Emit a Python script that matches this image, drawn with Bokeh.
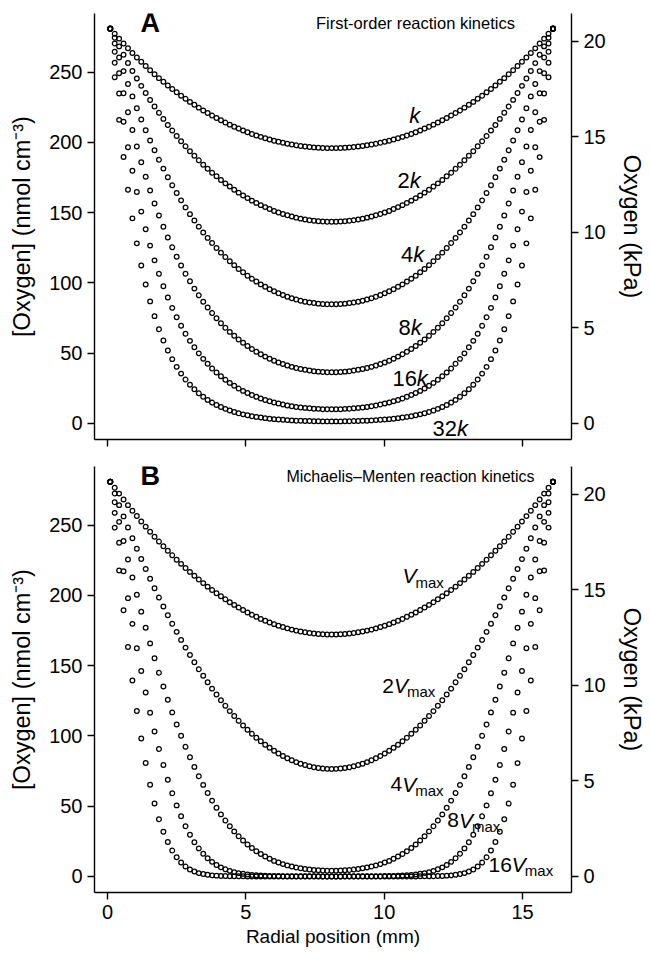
from bokeh.plotting import figure
from bokeh.models import Range1d, LinearAxis, FixedTicker, Label, CustomLabelingPolicy
from bokeh.layouts import column
from bokeh.embed import file_html
from bokeh.resources import INLINE

FONT = "Liberation Sans"

# Radial position of every sample (mm)
radial_mm = [0.10, 0.26, 0.42, 0.58, 0.74, 0.90, 1.06, 1.22, 1.38, 1.54, 1.70, 1.86, 2.02, 2.18, 2.34,
             2.50, 2.66, 2.82, 2.98, 3.14, 3.30, 3.46, 3.62, 3.78, 3.94, 4.10, 4.26, 4.42, 4.58, 4.74,
             4.90, 5.06, 5.22, 5.38, 5.54, 5.70, 5.86, 6.02, 6.18, 6.34, 6.50, 6.66, 6.82, 6.98, 7.14,
             7.30, 7.46, 7.62, 7.78, 7.94, 8.10, 8.26, 8.42, 8.58, 8.74, 8.90, 9.06, 9.22, 9.38, 9.54,
             9.70, 9.86, 10.02, 10.18, 10.34, 10.50, 10.66, 10.82, 10.98, 11.14, 11.30, 11.46, 11.62,
             11.78, 11.94, 12.10, 12.26, 12.42, 12.58, 12.74, 12.90, 13.06, 13.22, 13.38, 13.54, 13.70,
             13.86, 14.02, 14.18, 14.34, 14.50, 14.66, 14.82, 14.98, 15.14, 15.30, 15.46, 15.62, 15.78,
             15.94, 16.10]

# Panel A: first-order kinetics, [O2] in nmol cm-3
first_k = [281.1, 277.4, 273.9, 270.4, 267.0, 263.7, 260.5, 257.4, 254.4, 251.4, 248.6, 245.8, 243.2, 240.6, 238.1,
           235.7, 233.3, 231.1, 228.9, 226.8, 224.8, 222.8, 221.0, 219.2, 217.4, 215.8, 214.2, 212.7, 211.2, 209.9,
           208.5, 207.3, 206.1, 205.0, 204.0, 203.0, 202.1, 201.3, 200.5, 199.8, 199.1, 198.5, 198.0, 197.5, 197.1,
           196.8, 196.5, 196.3, 196.1, 196.0, 196.0, 196.0, 196.1, 196.3, 196.5, 196.8, 197.1, 197.5, 198.0, 198.5,
           199.1, 199.8, 200.5, 201.3, 202.1, 203.0, 204.0, 205.0, 206.1, 207.3, 208.5, 209.9, 211.2, 212.7, 214.2,
           215.8, 217.4, 219.2, 221.0, 222.8, 224.8, 226.8, 228.9, 231.1, 233.3, 235.7, 238.1, 240.6, 243.2, 245.8,
           248.6, 251.4, 254.4, 257.4, 260.5, 263.7, 267.0, 270.4, 273.9, 277.4, 281.1]
first_2k = [281.0, 274.6, 268.4, 262.4, 256.5, 250.9, 245.5, 240.3, 235.2, 230.3, 225.6, 221.1, 216.8, 212.5, 208.5,
            204.6, 200.9, 197.3, 193.8, 190.5, 187.3, 184.2, 181.3, 178.5, 175.9, 173.3, 170.9, 168.6, 166.3, 164.3,
            162.3, 160.4, 158.6, 157.0, 155.4, 154.0, 152.6, 151.3, 150.2, 149.1, 148.2, 147.3, 146.5, 145.8, 145.2,
            144.7, 144.3, 144.0, 143.8, 143.6, 143.6, 143.6, 143.8, 144.0, 144.3, 144.7, 145.2, 145.8, 146.5, 147.3,
            148.2, 149.1, 150.2, 151.3, 152.6, 154.0, 155.4, 157.0, 158.6, 160.4, 162.3, 164.3, 166.3, 168.6, 170.9,
            173.3, 175.9, 178.5, 181.3, 184.2, 187.3, 190.5, 193.8, 197.3, 200.9, 204.6, 208.5, 212.5, 216.8, 221.1,
            225.6, 230.3, 235.2, 240.3, 245.5, 250.9, 256.5, 262.4, 268.4, 274.6, 281.0]
first_4k = [281.1, 270.5, 260.5, 250.8, 241.6, 232.8, 224.4, 216.4, 208.7, 201.4, 194.4, 187.7, 181.4, 175.3, 169.5,
            164.0, 158.8, 153.8, 149.0, 144.5, 140.1, 136.0, 132.1, 128.5, 124.9, 121.6, 118.5, 115.5, 112.7, 110.0,
            107.6, 105.2, 103.0, 101.0, 99.0, 97.3, 95.6, 94.1, 92.7, 91.4, 90.2, 89.2, 88.3, 87.4, 86.7,
            86.1, 85.7, 85.3, 85.0, 84.9, 84.8, 84.9, 85.0, 85.3, 85.7, 86.1, 86.7, 87.4, 88.3, 89.2,
            90.2, 91.4, 92.7, 94.1, 95.6, 97.3, 99.0, 101.0, 103.0, 105.2, 107.6, 110.0, 112.7, 115.5, 118.5,
            121.6, 124.9, 128.5, 132.1, 136.0, 140.1, 144.5, 149.0, 153.8, 158.8, 164.0, 169.5, 175.3, 181.4, 187.7,
            194.4, 201.4, 208.7, 216.4, 224.4, 232.8, 241.6, 250.8, 260.5, 270.5, 281.1]
first_8k = [280.9, 264.6, 249.3, 235.0, 221.5, 208.9, 197.1, 186.0, 175.6, 165.8, 156.6, 148.1, 140.0, 132.4, 125.4,
            118.7, 112.5, 106.6, 101.2, 96.0, 91.2, 86.7, 82.5, 78.6, 74.9, 71.4, 68.2, 65.2, 62.4, 59.8,
            57.4, 55.1, 53.0, 51.1, 49.3, 47.6, 46.1, 44.7, 43.4, 42.3, 41.2, 40.3, 39.5, 38.8, 38.2,
            37.7, 37.2, 36.9, 36.7, 36.5, 36.5, 36.5, 36.7, 36.9, 37.2, 37.7, 38.2, 38.8, 39.5, 40.3,
            41.2, 42.3, 43.4, 44.7, 46.1, 47.6, 49.3, 51.1, 53.0, 55.1, 57.4, 59.8, 62.4, 65.2, 68.2,
            71.4, 74.9, 78.6, 82.5, 86.7, 91.2, 96.0, 101.2, 106.6, 112.5, 118.7, 125.4, 132.4, 140.0, 148.1,
            156.6, 165.8, 175.6, 186.0, 197.1, 208.9, 221.5, 235.0, 249.3, 264.6, 280.9]
first_16k = [280.9, 256.8, 234.9, 214.8, 196.6, 179.9, 164.7, 150.8, 138.2, 126.6, 116.1, 106.5, 97.7, 89.6, 82.3,
             75.6, 69.5, 63.9, 58.8, 54.2, 49.9, 46.0, 42.5, 39.2, 36.3, 33.6, 31.1, 28.9, 26.8, 24.9,
             23.2, 21.7, 20.3, 19.0, 17.8, 16.7, 15.8, 14.9, 14.2, 13.5, 12.8, 12.3, 11.8, 11.4, 11.1,
             10.8, 10.5, 10.4, 10.2, 10.2, 10.1, 10.2, 10.2, 10.4, 10.5, 10.8, 11.1, 11.4, 11.8, 12.3,
             12.8, 13.5, 14.2, 14.9, 15.8, 16.7, 17.8, 19.0, 20.3, 21.7, 23.2, 24.9, 26.8, 28.9, 31.1,
             33.6, 36.3, 39.2, 42.5, 46.0, 49.9, 54.2, 58.8, 63.9, 69.5, 75.6, 82.3, 89.6, 97.7, 106.5,
             116.1, 126.6, 138.2, 150.8, 164.7, 179.9, 196.6, 214.8, 234.9, 256.8, 280.9]
first_32k = [281.0, 246.4, 216.1, 189.6, 166.3, 146.0, 128.2, 112.5, 98.9, 86.9, 76.4, 67.1, 59.1, 52.0, 45.8,
             40.3, 35.5, 31.3, 27.6, 24.4, 21.5, 19.0, 16.8, 14.9, 13.2, 11.7, 10.4, 9.2, 8.2, 7.3,
             6.5, 5.8, 5.2, 4.7, 4.2, 3.8, 3.4, 3.1, 2.8, 2.6, 2.4, 2.2, 2.0, 1.9, 1.8,
             1.7, 1.6, 1.6, 1.5, 1.5, 1.5, 1.5, 1.5, 1.6, 1.6, 1.7, 1.8, 1.9, 2.0, 2.2,
             2.4, 2.6, 2.8, 3.1, 3.4, 3.8, 4.2, 4.7, 5.2, 5.8, 6.5, 7.3, 8.2, 9.2, 10.4,
             11.7, 13.2, 14.9, 16.8, 19.0, 21.5, 24.4, 27.6, 31.3, 35.5, 40.3, 45.8, 52.0, 59.1, 67.1,
             76.4, 86.9, 98.9, 112.5, 128.2, 146.0, 166.3, 189.6, 216.1, 246.4, 281.0]

# Panel B: Michaelis-Menten kinetics, [O2] in nmol cm-3
mm_1v = [281.0, 276.7, 272.5, 268.3, 264.3, 260.3, 256.5, 252.7, 249.0, 245.4, 241.8, 238.4, 235.0, 231.8, 228.6,
         225.5, 222.5, 219.6, 216.8, 214.0, 211.4, 208.8, 206.3, 203.9, 201.6, 199.4, 197.3, 195.2, 193.3, 191.4,
         189.6, 187.9, 186.3, 184.8, 183.3, 182.0, 180.7, 179.6, 178.5, 177.5, 176.6, 175.7, 175.0, 174.3, 173.8,
         173.3, 172.9, 172.6, 172.4, 172.2, 172.2, 172.2, 172.4, 172.6, 172.9, 173.3, 173.8, 174.3, 175.0, 175.7,
         176.6, 177.5, 178.5, 179.6, 180.7, 182.0, 183.3, 184.8, 186.3, 187.9, 189.6, 191.4, 193.3, 195.2, 197.3,
         199.4, 201.6, 203.9, 206.3, 208.8, 211.4, 214.0, 216.8, 219.6, 222.5, 225.5, 228.6, 231.8, 235.0, 238.4,
         241.8, 245.4, 249.0, 252.7, 256.5, 260.3, 264.3, 268.3, 272.5, 276.7, 281.0]
mm_2v = [281.0, 272.6, 264.3, 256.3, 248.4, 240.7, 233.2, 225.9, 218.8, 211.9, 205.1, 198.5, 192.2, 185.9, 179.9,
         174.1, 168.4, 162.9, 157.6, 152.5, 147.5, 142.8, 138.2, 133.7, 129.5, 125.4, 121.5, 117.7, 114.2, 110.8,
         107.5, 104.5, 101.6, 98.8, 96.2, 93.8, 91.6, 89.5, 87.6, 85.8, 84.2, 82.7, 81.4, 80.3, 79.3,
         78.4, 77.7, 77.2, 76.8, 76.6, 76.5, 76.6, 76.8, 77.2, 77.7, 78.4, 79.3, 80.3, 81.4, 82.7,
         84.2, 85.8, 87.6, 89.5, 91.6, 93.8, 96.2, 98.8, 101.6, 104.5, 107.5, 110.8, 114.2, 117.7, 121.5,
         125.4, 129.5, 133.7, 138.2, 142.8, 147.5, 152.5, 157.6, 162.9, 168.4, 174.1, 179.9, 185.9, 192.2, 198.5,
         205.1, 211.9, 218.8, 225.9, 233.2, 240.7, 248.4, 256.3, 264.3, 272.6, 281.0]
mm_4v = [281.0, 266.4, 252.4, 238.8, 225.6, 212.8, 200.5, 188.5, 177.0, 165.9, 155.3, 145.0, 135.2, 125.8, 116.8,
         108.2, 100.1, 92.3, 84.9, 78.0, 71.4, 65.2, 59.4, 54.0, 48.9, 44.2, 39.8, 35.8, 32.1, 28.7,
         25.6, 22.8, 20.3, 18.0, 16.0, 14.2, 12.6, 11.1, 9.9, 8.8, 7.9, 7.1, 6.4, 5.8, 5.3,
         4.9, 4.6, 4.4, 4.2, 4.1, 4.1, 4.1, 4.2, 4.4, 4.6, 4.9, 5.3, 5.8, 6.4, 7.1,
         7.9, 8.8, 9.9, 11.1, 12.6, 14.2, 16.0, 18.0, 20.3, 22.8, 25.6, 28.7, 32.1, 35.8, 39.8,
         44.2, 48.9, 54.0, 59.4, 65.2, 71.4, 78.0, 84.9, 92.3, 100.1, 108.2, 116.8, 125.8, 135.2, 145.0,
         155.3, 165.9, 177.0, 188.5, 200.5, 212.8, 225.6, 238.8, 252.4, 266.4, 281.0]
mm_8v = [281.0, 258.8, 237.6, 217.3, 198.1, 179.8, 162.5, 146.2, 130.9, 116.6, 103.2, 90.8, 79.4, 68.9, 59.3,
         50.6, 42.8, 35.8, 29.7, 24.4, 20.0, 16.2, 13.0, 10.4, 8.2, 6.5, 5.1, 4.0, 3.1, 2.4,
         1.9, 1.4, 1.1, 0.9, 0.7, 0.5, 0.4, 0.3, 0.3, 0.2, 0.2, 0.1, 0.1, 0.1, 0.1,
         0.1, 0.1, 0.1, 0.0, 0.0, 0.0, 0.0, 0.0, 0.1, 0.1, 0.1, 0.1, 0.1, 0.1, 0.1,
         0.2, 0.2, 0.3, 0.3, 0.4, 0.5, 0.7, 0.9, 1.1, 1.4, 1.9, 2.4, 3.1, 4.0, 5.1,
         6.5, 8.2, 10.4, 13.0, 16.2, 20.0, 24.4, 29.7, 35.8, 42.8, 50.6, 59.3, 68.9, 79.4, 90.8,
         103.2, 116.6, 130.9, 146.2, 162.5, 179.8, 198.1, 217.3, 237.6, 258.8, 281.0]
mm_16v = [281.0, 248.3, 217.8, 189.5, 163.4, 139.5, 117.8, 98.2, 80.7, 65.3, 51.9, 40.8, 31.8, 24.6, 18.5,
          13.7, 9.9, 7.1, 5.0, 3.5, 2.4, 1.7, 1.2, 0.8, 0.6, 0.4, 0.3, 0.2, 0.1, 0.1,
          0.1, 0.0, 0.0, 0.0, 0.0, 0.0, 0.0, 0.0, 0.0, 0.0, 0.0, 0.0, 0.0, 0.0, 0.0,
          0.0, 0.0, 0.0, 0.0, 0.0, 0.0, 0.0, 0.0, 0.0, 0.0, 0.0, 0.0, 0.0, 0.0, 0.0,
          0.0, 0.0, 0.0, 0.0, 0.0, 0.0, 0.0, 0.0, 0.0, 0.0, 0.1, 0.1, 0.1, 0.2, 0.3,
          0.4, 0.6, 0.8, 1.2, 1.7, 2.4, 3.5, 5.0, 7.1, 9.9, 13.7, 18.5, 24.6, 31.8, 40.8,
          51.9, 65.3, 80.7, 98.2, 117.8, 139.5, 163.4, 189.5, 217.8, 248.3, 281.0]

nmol_ticks = [0, 50, 100, 150, 200, 250]
kpa_ticks = [0, 5, 10, 15, 20]
x_ticks = [0, 5, 10, 15]
NMOL_PER_KPA = 13.6
Y_LO, Y_HI = -11.4, 291.8

HIDE_ALL = """
for (let i = 0; i < indices.size; i++) { indices.unset(i) }
return indices
"""


def style_axis(ax, ticks, label_px="20px"):
    ax.ticker = FixedTicker(ticks=ticks)
    ax.axis_line_color = "black"
    ax.axis_line_width = 1.4
    ax.major_tick_line_color = "black"
    ax.major_tick_line_width = 1.4
    ax.major_tick_in = 0
    ax.major_tick_out = 7
    ax.minor_tick_in = 0
    ax.minor_tick_out = 0
    ax.major_label_text_font = FONT
    ax.major_label_text_color = "black"
    ax.major_label_text_font_size = label_px
    ax.major_label_standoff = 5
    ax.axis_label_text_font = FONT
    ax.axis_label_text_font_size = "23.5px"
    ax.axis_label_text_font_style = "normal"
    ax.axis_label_text_color = "black"


def make_panel(height, top, bottom):
    p = figure(width=650, height=height, x_range=Range1d(-0.47, 16.77), y_range=Range1d(Y_LO, Y_HI),
               output_backend="svg", toolbar_location=None,
               min_border_left=94, min_border_right=79, min_border_top=top, min_border_bottom=bottom)
    p.outline_line_color = None
    p.grid.visible = False
    p.background_fill_color = "white"
    p.border_fill_color = "white"
    p.extra_y_ranges = {"kpa": Range1d(Y_LO / NMOL_PER_KPA, Y_HI / NMOL_PER_KPA)}
    right = LinearAxis(y_range_name="kpa", axis_label="Oxygen (kPa)")
    p.add_layout(right, "right")
    style_axis(p.xaxis[0], x_ticks)
    style_axis(p.yaxis[0], nmol_ticks)
    style_axis(right, kpa_ticks)
    p.yaxis[0].axis_label = "[Oxygen] (nmol cm\u207b\u00b3)"
    p.yaxis[0].axis_label_standoff = 11
    right.axis_label_standoff = 10
    return p


def dots(p, ys):
    p.scatter(radial_mm, ys, marker="circle", size=4.7, fill_color=None,
              line_color="black", line_width=1.25)


def txt(p, x, y, s, size="22px", style="normal", align="left"):
    p.add_layout(Label(x=x, y=y, text=s, text_font=FONT, text_font_size=size,
                       text_font_style=style, text_color="black",
                       text_align=align, text_baseline="middle"))


# ---------- Panel A ----------
pa = make_panel(452, 13, 13)
pa.xaxis[0].major_label_text_font_size = "1px"
pa.xaxis[0].major_label_standoff = 0
pa.xaxis[0].major_label_policy = CustomLabelingPolicy(code=HIDE_ALL)
for ys in [first_k, first_2k, first_4k, first_8k, first_16k, first_32k]:
    dots(pa, ys)
txt(pa, 1.19, 285.3, "A", size="27px", style="bold")
txt(pa, 11.13, 284.9, "First-order reaction kinetics", size="16.5px", align="center")
# curve labels: (number, x of number, x of k, y)
k_labels = [("", 10.91, 10.91, 219.1), ("2", 10.48, 10.92, 173.2), ("4", 10.61, 11.05, 120.1),
            ("8", 10.52, 10.96, 68.2), ("16", 10.30, 11.18, 32.2), ("32", 11.75, 12.63, -3.3)]
for num, nx, kx, ly in k_labels:
    if num:
        txt(pa, nx, ly, num)
    txt(pa, kx, ly, "k", style="italic")

# ---------- Panel B ----------
pb = make_panel(501, 14, 61)
pb.xaxis[0].axis_label = "Radial position (mm)"
pb.xaxis[0].axis_label_text_font_size = "19px"
pb.xaxis[0].axis_label_standoff = 4
for ys in [mm_1v, mm_2v, mm_4v, mm_8v, mm_16v]:
    dots(pb, ys)
txt(pb, 1.19, 285.3, "B", size="27px", style="bold")
txt(pb, 10.95, 284.9, "Michaelis\u2013Menten reaction kinetics", size="16px", align="center")

# (number, x of label start, y centre of V, y centre of subscript)
vm_labels = [("", 10.66, 214.2, 209.0), ("2", 9.93, 135.9, 131.4), ("4", 10.23, 65.8, 61.3),
             ("8", 12.28, 40.2, 35.7), ("16", 13.77, 8.5, 4.0)]
for num, lx, vy, sy in vm_labels:
    off = 0.422 * len(num)
    if num:
        txt(pb, lx, vy, num, size="21px")
    txt(pb, lx + off, vy, "V", size="21px", style="italic")
    txt(pb, lx + off + 0.47, sy, "max", size="15px")

layout = column(pa, pb)
open("out.html", "w").write(file_html(layout, INLINE))
